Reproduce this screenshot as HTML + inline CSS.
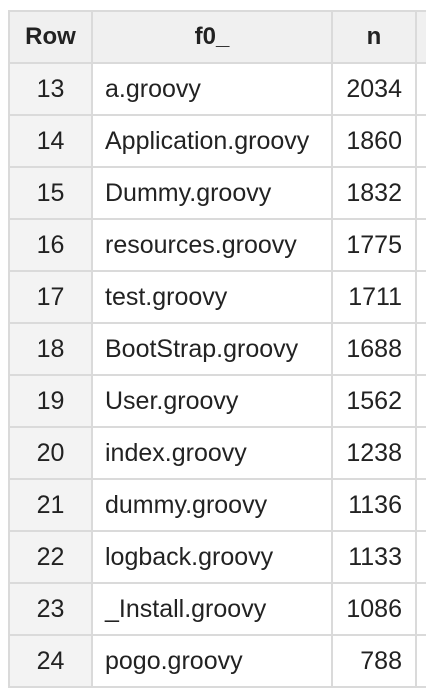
<!DOCTYPE html>
<html><head><style>
html,body{margin:0;padding:0;background:#fff;width:426px;height:696px;overflow:hidden}
table{position:absolute;left:8px;top:10px;border-collapse:collapse;table-layout:fixed;width:440px;font-family:"Liberation Sans",Arial,sans-serif;font-size:25px;color:#222}
td,th{border:2px solid #dadada;height:52px;padding:0;box-sizing:border-box;white-space:nowrap;overflow:hidden}
th{background:#f0f0f0;font-weight:bold;text-align:center;font-size:24px}
td.r{background:#f3f3f3;text-align:center}
td.f{background:#fff;padding-left:12px}
td.n{background:#fff;text-align:right;padding-right:13px}
td.x{background:#fff;border-right:none}
th.x{border-right:none}
</style></head><body>
<table>
<colgroup><col style="width:83px"><col style="width:240px"><col style="width:84px"><col style="width:33px"></colgroup>
<tr><th>Row</th><th>f0_</th><th>n</th><th class="x"></th></tr>
<tr><td class="r">13</td><td class="f">a.groovy</td><td class="n">2034</td><td class="x"></td></tr>
<tr><td class="r">14</td><td class="f">Application.groovy</td><td class="n">1860</td><td class="x"></td></tr>
<tr><td class="r">15</td><td class="f">Dummy.groovy</td><td class="n">1832</td><td class="x"></td></tr>
<tr><td class="r">16</td><td class="f">resources.groovy</td><td class="n">1775</td><td class="x"></td></tr>
<tr><td class="r">17</td><td class="f">test.groovy</td><td class="n">1711</td><td class="x"></td></tr>
<tr><td class="r">18</td><td class="f">BootStrap.groovy</td><td class="n">1688</td><td class="x"></td></tr>
<tr><td class="r">19</td><td class="f">User.groovy</td><td class="n">1562</td><td class="x"></td></tr>
<tr><td class="r">20</td><td class="f">index.groovy</td><td class="n">1238</td><td class="x"></td></tr>
<tr><td class="r">21</td><td class="f">dummy.groovy</td><td class="n">1136</td><td class="x"></td></tr>
<tr><td class="r">22</td><td class="f">logback.groovy</td><td class="n">1133</td><td class="x"></td></tr>
<tr><td class="r">23</td><td class="f">_Install.groovy</td><td class="n">1086</td><td class="x"></td></tr>
<tr><td class="r">24</td><td class="f">pogo.groovy</td><td class="n">788</td><td class="x"></td></tr>
</table>
</body></html>
